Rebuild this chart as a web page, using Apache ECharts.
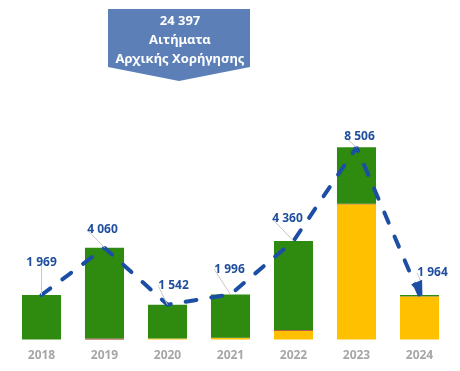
<!DOCTYPE html>
<html>
<head>
<meta charset="utf-8">
<script src="https://cdn.jsdelivr.net/npm/echarts@6/dist/echarts.min.js"></script>
<style>html,body{margin:0;padding:0;background:#fff}#c{width:460px;height:371px}</style>
</head>
<body>
<div id="c"></div>
<script>
const categories = ['2018', '2019', '2020', '2021', '2022', '2023', '2024'];
const yellowValues = [0, 0, 45, 70, 390, 5980, 1900];
const redValues = [0, 45, 0, 10, 25, 30, 10];
const greenValues = [1969, 4015, 1497, 1916, 3945, 2496, 54];
const totalValues = [1969, 4060, 1542, 1996, 4360, 8506, 1964];
const headerLines = ['24 397', 'Αιτήματα', 'Αρχικής Χορήγησης'];

const labelShift = [[0, -21], [-2, -7], [6, -8], [-1, -14], [-6, -11], [3, 0], [13, 4]];
const fmt = v => String(v).replace(/\B(?=(\d{3})+(?!\d))/g, ' ');
const FONT = '"Noto Sans", sans-serif';
const last = totalValues.length - 1;
const lineData = totalValues.map((v, i) => i === last
  ? {value: v, symbol: 'triangle', symbolSize: [12, 15], symbolRotate: 203, symbolOffset: [0, -6], symbolKeepAspect: true}
  : {value: v, symbol: 'circle', symbolSize: 0});

const chart = echarts.init(document.getElementById('c'), null, {renderer: 'canvas'});
chart.setOption({
  animation: false,
  backgroundColor: '#ffffff',
  grid: {left: 10, right: 9, top: 113.5, bottom: 31.5},
  xAxis: {
    type: 'category',
    data: categories,
    axisLine: {show: false},
    axisTick: {show: false},
    axisLabel: {color: '#a6a6a6', fontWeight: 'bold', fontSize: 12, fontFamily: FONT, margin: 10}
  },
  yAxis: {type: 'value', min: 0, max: 10000, show: false, splitLine: {show: false}},
  series: [
    {type: 'bar', stack: 'a', data: yellowValues, barWidth: '62%', itemStyle: {color: '#ffc000'}},
    {type: 'bar', stack: 'a', data: redValues, itemStyle: {color: '#9b2d1f'}},
    {type: 'bar', stack: 'a', data: greenValues, itemStyle: {color: '#2e8b10'}},
    {
      type: 'line', data: lineData, z: 10,
      showAllSymbol: true,
      lineStyle: {color: '#1c4ea3', width: 4, type: [11, 15], cap: 'round'},
      itemStyle: {color: '#1c4ea3'},
      label: {
        show: true, position: 'top', distance: 5,
        color: '#1f4e9f', fontWeight: 'bold', fontSize: 12, fontFamily: FONT,
        formatter: p => fmt(p.value)
      },
      labelLine: {show: true, lineStyle: {color: '#c8c8c8', width: 1}},
      labelLayout: p => ({dx: labelShift[p.dataIndex][0], dy: labelShift[p.dataIndex][1]})
    }
  ],
  graphic: [
    {type: 'polygon', shape: {points: [[108, 9], [250, 9], [250, 67], [179, 81], [108, 67]]}, style: {fill: '#5b7fb6'}},
    {type: 'text', x: 180, y: 21, style: {text: headerLines[0], fill: '#fff', font: 'bold 13px "Noto Sans", sans-serif', align: 'center', verticalAlign: 'middle'}},
    {type: 'text', x: 180, y: 40, style: {text: headerLines[1], fill: '#fff', font: 'bold 13px "Noto Sans", sans-serif', align: 'center', verticalAlign: 'middle'}},
    {type: 'text', x: 180, y: 59, style: {text: headerLines[2], fill: '#fff', font: 'bold 13px "Noto Sans", sans-serif', align: 'center', verticalAlign: 'middle'}}
  ]
});
</script>
</body>
</html>
